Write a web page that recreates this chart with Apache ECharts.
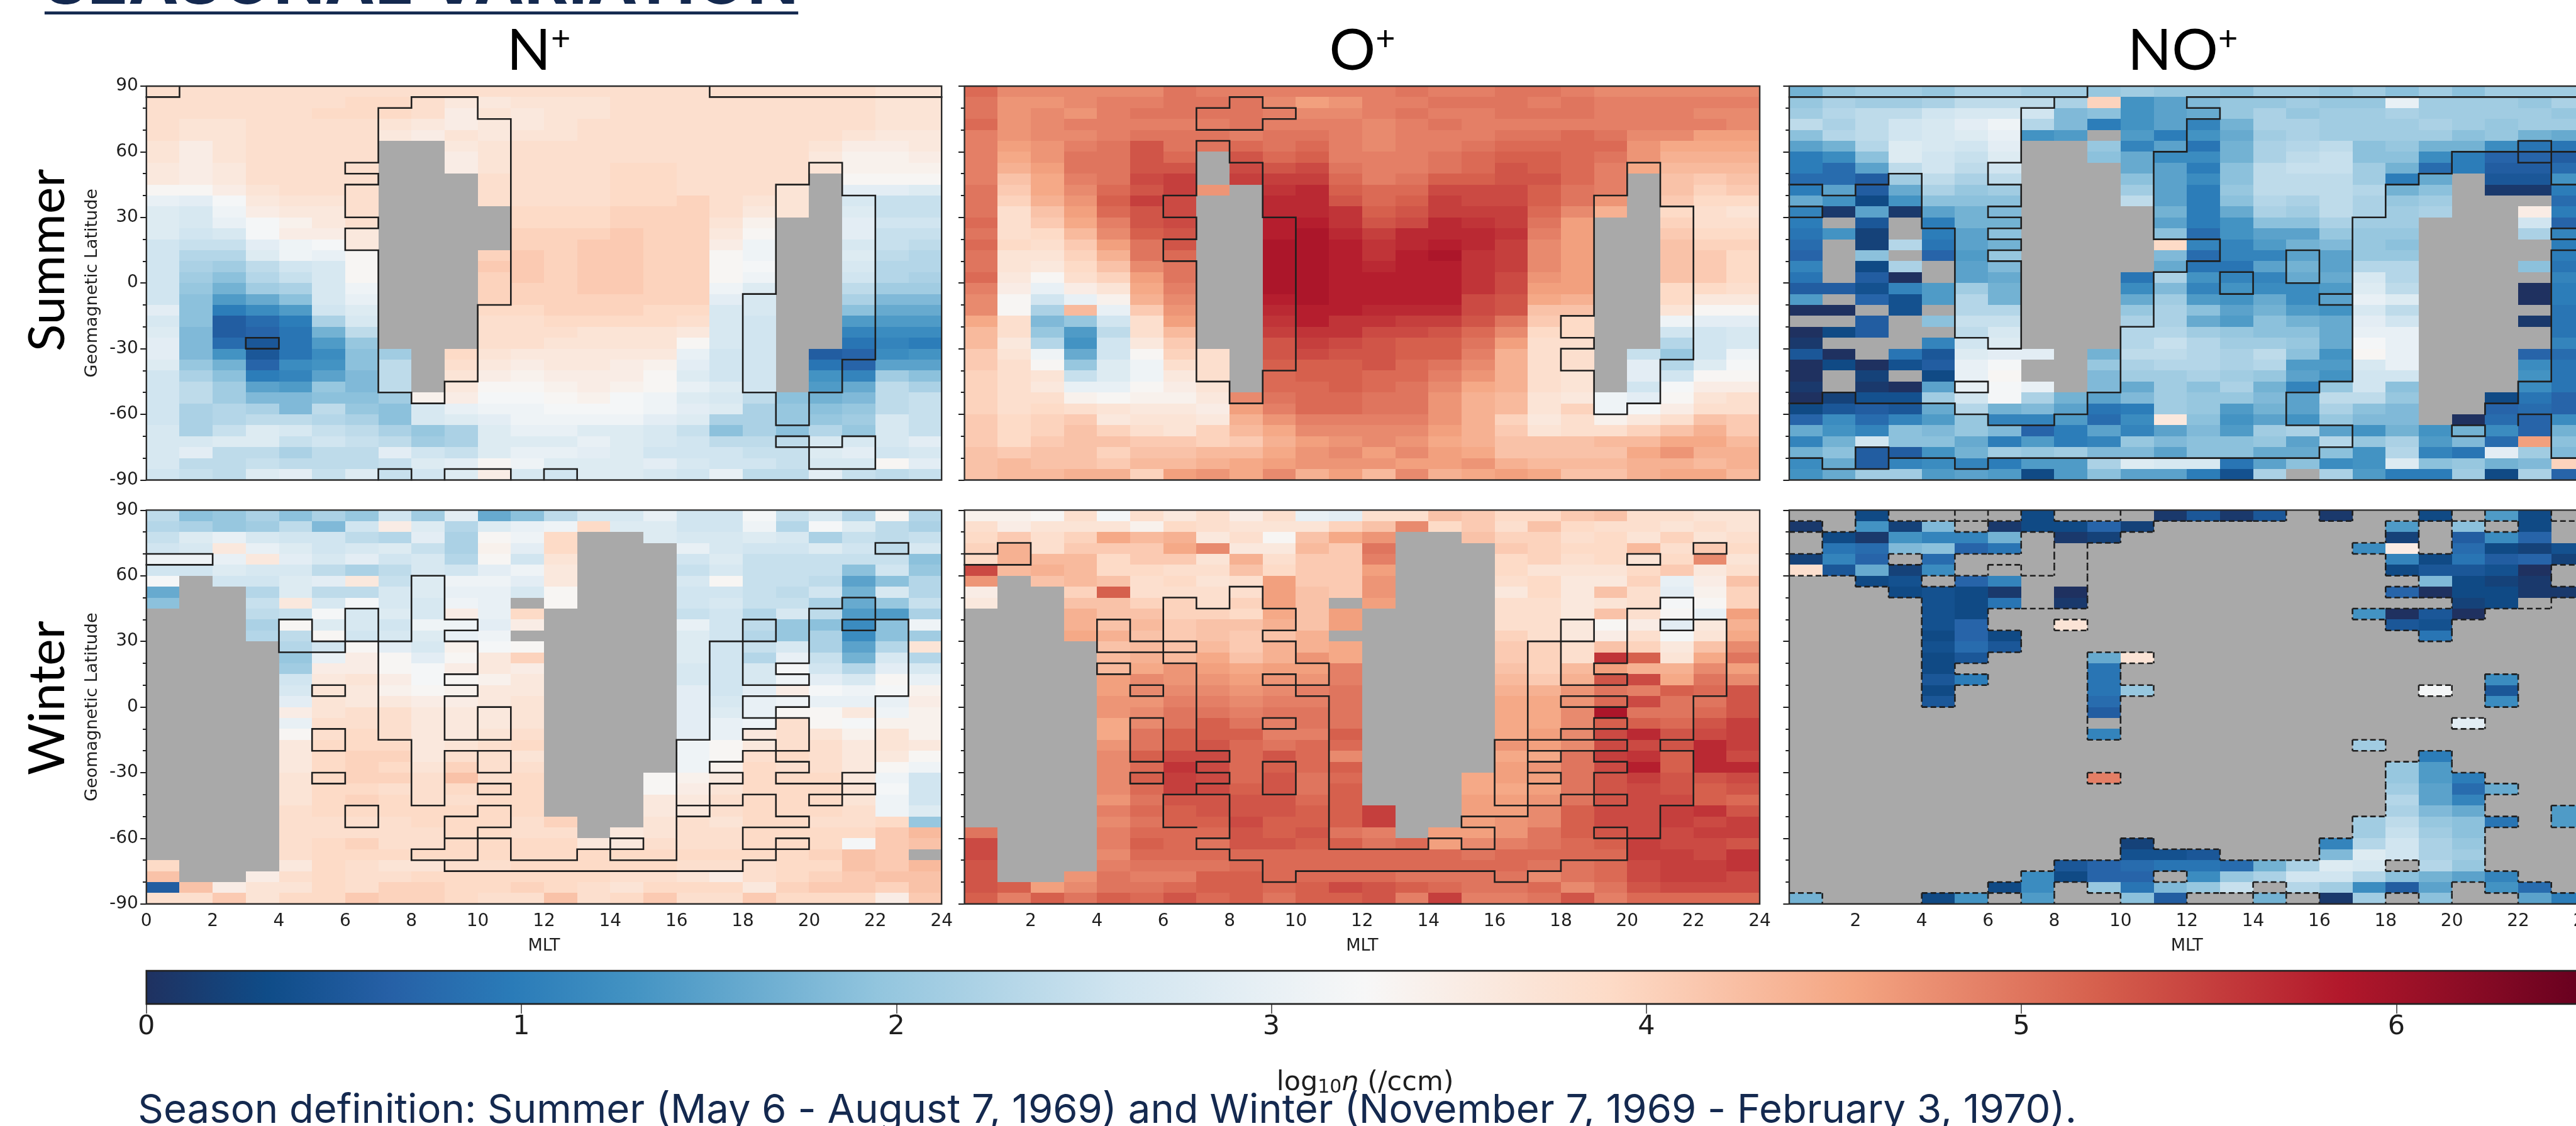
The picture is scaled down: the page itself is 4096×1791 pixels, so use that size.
<!DOCTYPE html>
<html><head><meta charset="utf-8">
<style>html,body{margin:0;padding:0;background:#fff;overflow:hidden}#c{width:4096px;height:1791px}</style>
<script src="https://cdn.jsdelivr.net/npm/echarts@6/dist/echarts.min.js"></script>
</head><body><div id="c"></div>
<script>
const X=null; // no data (grey)
const speciesTitles=['N','O','NO'];
const rowTitles=['Summer','Winter'];
const colourbarTicks=[0,1,2,3,4,5,6];
// log10 n in tenths, rows run from latitude 85..90 down to -90..-85, columns MLT 0..23
const nSummer=[
[38,38,38,38,38,38,38,38,38,38,38,38,38,38,38,38,38,38,38,38,38,38,37,37],
[38,38,38,38,38,38,39,39,38,36,36,37,37,37,38,38,38,38,38,38,38,38,37,37],
[38,38,38,38,38,39,39,39,38,35,37,36,37,37,38,38,38,38,38,38,38,38,37,37],
[38,37,37,38,38,38,38,37,36,35,36,36,37,38,38,38,38,38,38,38,38,38,37,37],
[38,37,37,38,38,38,38,36,35,37,36,37,37,38,38,38,38,38,38,38,38,37,36,36],
[37,35,37,38,38,38,38,X,X,36,37,38,38,38,38,38,38,38,38,38,37,35,35,36],
[37,35,37,38,38,38,38,X,X,35,37,38,38,38,38,38,38,38,38,38,36,34,34,35],
[36,35,36,38,38,38,38,X,X,35,37,38,38,38,39,39,38,38,38,38,37,34,34,34],
[36,35,36,38,38,38,38,X,X,X,38,38,38,38,39,39,38,38,38,38,X,33,33,33],
[33,33,35,37,38,38,38,X,X,X,38,38,38,38,39,39,38,38,38,37,X,29,29,28],
[30,29,32,36,37,37,38,X,X,X,38,38,38,38,39,39,40,38,37,37,X,27,25,25],
[28,27,31,35,36,36,38,X,X,X,X,39,39,39,40,40,40,38,36,37,X,28,25,25],
[28,27,30,32,34,36,38,X,X,X,X,39,39,39,40,40,40,37,34,X,X,29,26,26],
[28,26,27,32,35,35,36,X,X,X,X,40,40,40,41,40,40,36,33,X,X,29,25,25],
[26,25,25,29,31,32,36,X,X,X,X,40,40,41,41,40,40,35,31,X,X,27,25,24],
[26,23,23,28,31,30,33,X,X,X,40,41,40,41,41,40,40,33,31,X,X,28,24,23],
[26,22,21,24,26,27,33,X,X,X,41,41,40,41,41,40,40,33,32,X,X,27,23,23],
[26,21,19,23,25,27,33,X,X,X,40,41,40,41,41,40,40,33,31,X,X,26,23,22],
[26,20,17,21,22,27,31,X,X,X,40,40,40,41,41,40,40,31,28,X,X,24,21,21],
[26,19,14,16,19,27,30,X,X,X,40,40,40,40,40,40,40,29,27,X,X,22,18,18],
[29,19,10,12,14,26,28,X,X,X,39,39,40,40,40,39,39,27,27,X,X,19,16,16],
[27,19,6,8,10,22,27,X,X,X,38,38,39,39,39,39,38,27,26,X,X,14,14,14],
[28,18,6,7,9,17,24,X,X,X,38,38,38,37,37,37,36,27,26,X,X,11,12,12],
[29,18,8,5,9,14,20,X,X,X,38,38,37,37,37,37,33,27,26,X,X,9,11,10],
[29,18,13,5,9,12,19,21,X,39,37,36,36,36,36,36,30,26,26,X,6,7,12,13],
[28,20,17,7,12,13,19,24,X,38,36,35,36,36,35,34,29,26,26,X,9,7,15,15],
[26,22,19,10,11,15,18,24,X,37,35,34,35,35,35,33,28,26,26,X,13,11,21,19],
[26,24,21,15,14,20,18,24,X,36,33,33,34,35,34,33,30,28,26,X,14,16,24,22],
[26,24,21,18,18,19,19,21,34,35,32,32,33,34,32,31,28,27,24,19,17,18,24,25],
[26,22,23,22,18,24,20,19,27,30,31,31,32,32,32,31,29,28,22,20,19,20,24,25],
[26,22,23,24,24,23,22,19,27,28,29,31,31,31,31,29,28,22,22,20,20,21,27,25],
[27,22,25,28,27,25,24,22,20,22,28,30,30,28,28,27,25,19,22,19,23,20,27,25],
[27,27,28,28,25,26,25,24,21,22,28,28,28,30,28,27,26,24,24,24,27,27,27,29],
[27,29,24,24,22,24,24,29,26,25,28,30,30,29,28,26,26,26,25,25,28,29,26,27],
[27,24,24,25,24,24,24,25,28,29,33,31,28,28,28,29,27,26,26,25,27,27,33,29],
[26,25,24,28,29,25,28,25,26,28,35,27,26,28,28,27,26,30,24,24,29,25,24,25]];
const oSummer=[
[51,48,48,48,48,48,50,49,49,49,49,49,49,50,49,49,50,50,49,48,48,48,48,48],
[50,47,47,48,49,49,50,50,50,48,46,47,49,49,50,50,50,49,50,49,49,49,49,49],
[50,47,48,47,49,50,50,50,50,49,48,48,49,50,49,49,50,50,50,49,49,49,48,48],
[51,47,48,49,49,49,49,49,50,49,49,49,48,49,50,49,49,49,49,49,49,49,49,48],
[49,47,48,48,49,50,50,50,49,50,50,49,48,49,49,49,50,50,51,50,48,48,46,46],
[49,46,47,49,50,53,50,50,51,50,51,49,48,49,49,50,51,51,51,51,47,45,45,45],
[49,45,47,50,50,53,51,X,53,51,52,49,49,49,50,51,52,52,51,50,47,44,44,44],
[49,44,46,50,50,53,53,X,54,53,54,50,49,49,50,51,53,52,51,49,45,43,43,43],
[49,42,45,49,50,54,55,X,55,55,55,51,49,50,52,52,53,53,51,49,X,42,41,42],
[50,41,45,48,51,53,55,47,X,56,57,52,51,51,54,54,54,52,50,49,X,42,40,41],
[50,40,44,47,52,55,54,X,X,57,57,53,51,52,55,54,54,52,50,47,X,41,39,39],
[50,38,42,46,51,53,54,X,X,57,57,56,52,53,55,55,55,51,48,44,X,39,38,37],
[51,38,41,45,49,53,54,X,X,58,58,56,53,54,57,56,55,50,46,X,X,40,38,38],
[50,38,39,43,48,52,53,X,X,58,59,57,55,57,57,57,56,49,46,X,X,41,39,39],
[51,39,38,41,46,50,53,X,X,59,59,58,56,57,58,57,55,48,46,X,X,42,40,40],
[50,37,37,40,44,50,51,X,X,59,59,58,56,58,59,56,55,48,46,X,X,42,41,39],
[50,37,36,39,42,48,50,X,X,59,59,58,57,58,58,56,55,48,46,X,X,42,41,39],
[51,36,33,38,40,46,50,X,X,59,59,58,58,58,58,56,54,47,46,X,X,42,41,39],
[49,35,30,35,37,45,49,X,X,59,59,58,58,58,58,56,54,46,46,X,X,39,39,38],
[48,33,26,30,34,44,48,X,X,58,59,58,58,58,58,54,53,45,44,X,X,39,36,36],
[48,33,22,43,30,41,47,X,X,57,58,58,57,57,57,54,53,42,42,X,X,37,33,33],
[45,38,18,20,26,38,46,X,X,56,58,56,56,55,55,53,50,41,39,X,X,31,29,29],
[43,38,20,14,24,38,43,X,X,55,56,56,54,54,53,51,48,39,39,X,X,26,26,27],
[43,36,23,13,26,36,41,X,X,53,55,54,53,52,52,50,46,38,38,X,X,23,26,27],
[41,37,31,16,26,33,40,38,X,53,54,53,53,52,52,49,44,38,38,X,25,20,26,31],
[41,38,33,20,28,31,38,38,X,52,52,52,53,51,50,48,44,38,38,X,29,23,28,32],
[40,38,37,25,28,31,36,38,X,51,52,52,51,51,49,47,44,38,37,X,29,26,33,33],
[40,38,36,30,30,33,35,37,X,51,51,52,51,50,48,45,44,38,37,X,26,32,35,35],
[40,38,38,34,33,34,34,36,48,50,51,51,50,50,47,44,43,37,36,31,29,33,37,38],
[40,38,39,38,37,36,36,35,46,49,51,51,50,50,47,44,43,37,40,31,32,35,38,38],
[41,39,40,41,36,37,37,36,44,47,49,49,49,49,47,44,40,36,38,34,36,38,42,41],
[41,39,40,42,40,38,37,40,43,45,48,48,48,48,46,44,41,37,38,38,40,42,44,41],
[41,39,41,42,42,41,41,40,41,44,46,47,48,47,45,44,42,42,42,43,43,45,45,43],
[42,41,42,42,40,42,42,43,43,45,47,48,46,48,46,45,42,42,42,42,45,47,44,44],
[42,43,42,42,41,43,43,44,45,46,47,47,47,46,46,47,44,43,43,43,44,44,43,44],
[42,43,43,44,44,40,46,47,45,48,44,46,43,48,44,45,46,45,42,42,44,45,45,43]];
const noSummer=[
[17,20,21,21,20,22,22,21,21,20,21,20,20,19,21,21,20,21,19,21,19,21,21,21],
[20,22,21,21,22,24,24,24,22,40,13,15,18,20,20,21,20,20,30,21,21,21,20,22],
[21,23,24,24,26,27,27,26,18,19,13,15,16,20,22,20,21,21,22,21,21,21,21,20],
[24,22,24,26,27,29,31,23,18,10,13,15,11,17,22,22,21,21,21,22,21,20,21,21],
[19,23,24,26,27,28,30,13,14,X,14,10,13,16,21,22,21,21,21,21,19,20,17,16],
[15,17,23,28,27,26,29,X,X,20,11,15,9,17,22,23,24,19,20,17,17,12,9,9],
[10,12,19,28,26,25,28,X,X,19,16,12,12,17,22,24,25,19,19,12,10,7,7,6],
[10,8,15,24,26,24,26,X,X,X,16,15,10,19,24,25,25,21,17,8,10,6,6,8],
[8,8,6,21,24,22,24,X,X,X,19,15,12,19,24,24,24,21,10,16,X,5,5,13],
[10,15,6,16,22,20,21,X,X,X,21,15,10,20,24,24,24,23,17,19,X,1,1,10],
[16,13,3,13,19,19,19,X,X,X,24,15,10,19,23,22,24,22,20,21,X,X,X,8],
[11,1,15,1,15,17,18,X,X,X,X,17,10,16,22,21,24,22,21,22,X,X,35,10],
[10,X,5,X,10,17,17,X,X,X,X,15,10,13,19,19,22,21,21,X,X,X,26,7],
[9,13,2,X,10,15,19,X,X,X,X,19,8,13,15,15,20,20,20,X,X,X,22,11],
[8,X,2,23,9,15,17,X,X,X,X,39,11,11,14,17,18,20,19,X,X,X,X,10],
[7,X,19,X,7,14,20,X,X,X,X,18,8,11,11,15,15,20,20,X,X,X,X,10],
[11,X,3,22,X,15,18,X,X,X,X,16,9,9,15,17,15,23,23,X,X,X,19,9],
[9,X,6,0,X,15,16,X,X,X,9,22,13,11,11,16,16,27,23,X,X,X,X,11],
[6,6,4,11,14,21,17,X,X,X,12,18,11,13,12,12,14,28,24,X,X,X,0,10],
[14,X,7,4,14,23,17,X,X,X,16,21,14,13,16,12,15,30,28,X,X,X,0,10],
[0,0,X,4,X,23,23,X,X,X,20,22,19,15,17,14,13,27,24,X,X,X,X,9],
[X,X,6,X,19,25,25,X,X,X,22,22,16,14,19,17,16,29,26,X,X,X,1,9],
[0,3,6,X,X,24,27,X,X,X,23,23,21,20,19,19,16,30,30,X,X,X,X,9],
[1,X,X,X,11,26,28,X,X,X,23,25,23,21,21,20,16,32,30,X,X,X,X,11],
[5,0,X,9,5,28,29,29,X,17,24,24,23,22,24,19,13,33,30,X,X,X,7,8],
[0,3,0,4,6,30,32,X,X,20,22,23,23,22,23,14,14,27,30,X,X,X,12,9],
[0,X,2,X,3,30,33,X,X,18,21,21,22,21,20,15,13,26,26,X,X,X,13,9],
[1,X,1,0,15,30,32,30,X,18,16,21,19,22,17,11,20,26,19,X,X,X,12,9],
[0,2,4,4,21,26,32,22,17,15,18,21,20,20,18,15,24,24,20,X,X,3,9,7],
[3,5,6,5,16,23,17,18,15,9,10,21,20,14,17,15,22,19,18,X,X,7,8,7],
[7,12,8,11,14,20,11,11,14,8,12,36,19,13,15,13,20,18,18,X,0,8,7,12],
[16,13,11,19,18,20,18,7,10,15,11,15,18,14,21,22,15,13,17,13,17,12,7,17],
[11,17,26,19,19,16,10,14,10,11,20,18,19,19,20,15,23,20,22,14,18,8,46,19],
[17,19,6,6,13,17,21,20,21,18,18,15,19,19,16,16,19,13,23,11,9,29,21,18],
[12,16,6,11,12,11,10,14,14,22,28,27,27,9,15,19,12,13,28,19,20,17,18,40],
[13,16,21,21,14,15,14,3,14,19,15,15,10,4,22,X,22,14,10,10,21,3,22,7]];
const nWinter=[
[24,19,20,22,19,22,20,26,21,29,16,19,24,27,27,30,26,26,32,25,27,23,33,23],
[23,22,20,21,24,18,26,35,28,23,28,30,31,39,28,28,26,26,31,23,32,28,24,22],
[25,28,30,27,26,26,24,23,29,22,33,31,39,X,X,28,27,27,28,27,22,25,24,25],
[26,27,36,30,28,26,27,28,25,22,34,29,39,X,X,X,30,27,26,26,28,26,24,27],
[31,31,30,36,29,27,29,26,27,23,33,26,37,X,X,X,26,28,25,25,25,25,25,19],
[26,26,28,27,27,24,22,24,27,26,29,31,36,X,X,X,25,27,25,25,25,19,26,20],
[32,X,26,26,28,29,36,25,28,31,31,29,36,X,X,X,27,33,25,25,24,15,19,23],
[16,X,X,23,28,24,24,27,28,30,30,27,33,X,X,X,26,26,25,24,26,17,27,23],
[19,X,X,25,36,27,32,27,27,31,30,X,33,X,X,X,26,27,25,25,22,16,20,25],
[X,X,X,24,25,32,27,28,27,35,30,39,X,X,X,X,25,26,23,27,24,14,14,22],
[X,X,X,22,33,28,27,26,31,31,29,35,X,X,X,X,30,26,24,20,19,12,19,31],
[X,X,X,23,24,33,26,27,28,30,31,X,X,X,X,X,28,26,23,20,22,12,19,21],
[X,X,X,X,23,26,33,29,27,34,32,33,X,X,X,X,28,26,25,27,22,15,23,37],
[X,X,X,X,20,30,35,33,29,33,36,40,X,X,X,X,28,26,23,30,25,17,27,23],
[X,X,X,X,21,35,35,33,32,35,36,35,X,X,X,X,27,26,27,32,26,23,29,27],
[X,X,X,X,26,36,37,35,32,33,34,36,X,X,X,X,27,26,27,31,29,27,33,30],
[X,X,X,X,27,37,36,34,33,34,36,36,X,X,X,X,29,26,29,35,32,31,32,34],
[X,X,X,X,29,37,36,36,35,35,36,37,X,X,X,X,29,27,30,31,30,30,30,35],
[X,X,X,X,35,37,38,38,36,36,36,37,X,X,X,X,29,28,30,33,33,36,31,34],
[X,X,X,X,30,38,38,38,36,36,36,37,X,X,X,X,29,30,31,38,33,32,34,34],
[X,X,X,X,33,38,39,38,36,36,37,38,X,X,X,X,29,30,36,38,37,34,37,34],
[X,X,X,X,36,39,39,39,36,37,38,39,X,X,X,X,31,33,36,38,38,36,37,36],
[X,X,X,X,36,39,40,40,36,38,38,37,X,X,X,X,31,33,38,39,38,36,36,33],
[X,X,X,X,36,39,40,39,37,40,38,38,X,X,X,X,31,34,39,38,38,36,33,31],
[X,X,X,X,37,39,40,40,38,42,38,39,X,X,X,33,34,36,39,39,39,36,31,26],
[X,X,X,X,37,39,39,38,38,39,39,39,X,X,X,33,35,37,39,39,39,37,32,26],
[X,X,X,X,37,39,40,39,38,38,39,39,X,X,X,36,36,38,39,39,39,37,31,26],
[X,X,X,X,38,39,39,39,39,39,39,39,X,X,X,36,36,38,39,39,39,38,31,28],
[X,X,X,X,38,38,38,38,39,39,39,38,40,X,X,37,38,37,39,39,38,38,39,20],
[X,X,X,X,38,38,38,38,38,39,39,38,38,X,36,37,38,38,39,39,39,39,41,43],
[X,X,X,X,38,39,40,38,38,39,39,39,39,36,36,38,38,38,39,39,39,32,41,42],
[X,X,X,X,38,39,39,39,39,39,39,39,39,39,39,39,39,39,39,39,40,42,41,X],
[39,X,X,X,36,39,38,37,37,38,38,39,39,39,39,39,38,38,38,39,39,42,41,43],
[42,X,X,35,38,39,38,38,39,39,39,39,39,39,38,38,37,35,38,39,40,41,42,42],
[6,42,35,37,37,39,38,40,40,39,39,40,39,38,37,39,39,39,36,40,41,41,40,42],
[38,38,41,37,39,39,41,40,40,39,38,38,42,38,39,41,38,38,41,39,39,39,35,41]];
const oWinter=[
[34,34,33,38,32,38,36,38,35,38,30,29,38,38,42,41,39,39,41,42,38,38,37,37],
[38,35,37,37,37,34,39,38,37,37,37,40,42,48,39,41,38,42,39,38,38,37,38,37],
[39,41,38,40,45,43,44,36,38,33,42,45,47,X,X,42,40,40,38,39,37,40,37,38],
[40,44,38,41,41,41,45,48,36,36,43,41,50,X,X,X,41,40,39,39,43,38,41,39],
[39,44,43,43,39,41,41,37,44,38,41,41,49,X,X,X,39,40,38,39,37,39,48,37],
[54,43,44,43,39,39,38,38,42,39,41,41,46,X,X,X,39,37,37,37,39,41,36,38],
[47,X,42,43,42,38,39,37,38,46,41,41,47,X,X,X,38,39,36,36,40,30,35,42],
[35,X,X,40,52,38,38,38,38,46,42,41,47,X,X,X,36,39,36,42,38,29,34,40],
[36,X,X,42,42,40,40,38,40,46,42,X,46,X,X,X,38,38,36,37,38,32,33,40],
[X,X,X,44,42,42,40,40,39,45,42,46,X,X,X,X,38,38,36,42,38,33,30,46],
[X,X,X,44,42,43,41,42,42,44,42,46,X,X,X,X,38,38,36,33,35,29,36,44],
[X,X,X,45,44,42,41,42,41,42,44,X,X,X,X,X,40,38,36,35,38,32,37,45],
[X,X,X,X,42,43,42,43,41,44,44,45,X,X,X,X,41,40,38,42,40,36,42,48],
[X,X,X,X,43,44,43,45,42,44,47,45,X,X,X,X,41,40,38,56,52,37,45,50],
[X,X,X,X,43,45,47,46,45,46,46,49,X,X,X,X,42,40,43,46,44,44,48,46],
[X,X,X,X,46,48,47,47,46,47,47,49,X,X,X,X,43,41,44,53,54,45,50,48],
[X,X,X,X,46,48,48,48,47,48,49,50,X,X,X,X,44,44,47,50,49,52,51,53],
[X,X,X,X,47,47,49,49,48,49,49,50,X,X,X,X,45,45,47,51,54,50,50,53],
[X,X,X,X,47,48,50,50,49,50,50,50,X,X,X,X,45,45,48,59,50,50,51,53],
[X,X,X,X,45,48,50,52,50,49,50,50,X,X,X,X,45,45,48,52,52,51,53,55],
[X,X,X,X,45,50,52,52,52,49,49,52,X,X,X,X,45,46,48,54,57,53,54,55],
[X,X,X,X,47,50,52,53,51,50,51,51,X,X,X,X,47,46,48,54,54,53,57,55],
[X,X,X,X,48,52,54,54,51,53,51,48,X,X,X,X,45,45,50,55,56,52,57,54],
[X,X,X,X,48,51,56,54,51,52,51,52,X,X,X,X,46,47,50,54,58,52,57,57],
[X,X,X,X,48,52,55,54,51,53,50,51,X,X,X,45,46,46,50,53,55,53,53,54],
[X,X,X,X,48,51,55,54,52,53,50,52,X,X,X,45,45,46,50,53,54,53,52,53],
[X,X,X,X,47,50,53,53,53,53,51,52,X,X,X,46,46,47,50,53,54,54,52,51],
[X,X,X,X,49,51,52,53,53,53,52,52,55,X,X,46,46,48,52,54,54,55,56,53],
[X,X,X,X,48,50,52,52,54,52,52,52,55,X,X,46,47,48,52,54,54,55,54,55],
[50,X,X,X,49,51,51,51,53,52,53,50,49,X,46,46,47,50,52,53,54,54,55,55],
[54,X,X,X,49,52,51,50,53,53,52,52,50,51,46,48,49,50,51,52,55,54,54,53],
[54,X,X,X,48,51,51,51,51,51,51,51,51,51,51,50,51,51,51,51,55,55,54,56],
[53,X,X,X,49,50,50,50,51,51,51,51,51,51,51,51,51,50,50,51,54,55,55,56],
[53,X,X,47,50,49,49,52,52,51,51,51,51,50,50,50,50,48,50,51,54,55,55,54],
[53,52,46,48,50,50,51,52,52,51,52,54,53,52,51,50,50,51,48,50,53,54,54,54],
[52,49,52,50,52,51,53,51,52,50,52,52,53,49,55,49,49,50,53,49,51,51,51,51]];
// NO+ winter is mostly empty: each row lists column,value pairs
const noWinterSparse=[
[2,3,7,3,11,1,12,5,13,1,14,5,16,1,19,3,21,14,22,3],
[0,1,2,13,3,2,4,18,6,1,7,3,8,3,9,7,10,2,18,14,20,19,22,3],
[1,3,2,1,3,13,4,11,5,11,6,17,8,1,9,2,18,2,20,6,21,12,22,7],
[1,9,2,8,3,18,4,19,5,7,6,9,17,12,18,35,20,8,21,3,22,2,23,4],
[0,2,1,11,2,7,4,8,18,11,19,3,20,9,21,6,22,7,23,2],
[0,38,1,5,2,16,3,2,4,12,18,3,19,5,20,5,21,4,22,0],
[2,3,3,4,5,7,6,11,19,18,20,3,21,2,22,1],
[3,3,4,4,5,3,6,1,8,0,18,7,19,0,20,3,21,3,22,1,23,1],
[4,4,5,3,6,9,8,1,20,2,21,3],
[4,4,5,3,17,13,18,0,19,5,20,0],
[4,4,5,7,8,37,18,5,19,4],
[4,3,5,7,6,3,19,9],
[4,4,5,8,6,5],
[4,3,5,5,9,16,10,37],
[4,3,9,9],
[4,5,5,10,9,9,21,12],
[4,3,9,9,10,20,19,32,21,5],
[4,5,9,8,21,12],
[9,6],
[20,29],
[9,11],
[17,21],
[19,10],
[18,20,19,14],
[9,49,18,20,19,14,20,10],
[18,21,19,15,20,8,21,16],
[18,23,19,15,20,11],
[18,22,19,18,20,16,23,14],
[17,21,18,24,19,20,20,19,21,9,23,14],
[17,21,18,25,19,21,20,19],
[10,2,16,11,17,23,18,26,19,22,20,20],
[10,4,11,4,12,5,16,18,17,28,18,26,19,22,20,21],
[8,5,9,7,10,8,11,9,12,9,13,8,14,17,15,22,16,28,17,27,19,23,20,20],
[7,12,8,3,9,7,10,7,12,12,13,20,14,22,15,26,16,26,17,23,18,19,19,17,20,15,21,11],
[6,3,7,12,9,20,10,9,11,18,12,20,13,25,15,23,16,21,17,12,18,6,19,15,21,13,22,8],
[0,17,4,3,5,13,7,14,10,19,11,6,14,17,16,1,17,21,19,19,22,15,23,10]];
// grey cells [col,row] that still belong to the dashed significance mask of NO+ winter
const noWinterMaskExtras=[[5,0],[10,0],[23,1],[23,2],[8,3],[8,4],[8,5],[8,6],[6,5],[7,6],[7,7],[7,8],[22,8],[9,19]];
// outlines: [mlt,lat,mlt,lat,...]
const nSummerOutlines=[
[0,85,1,85,1,90],[17,90,17,85,24,85],
[7,80,8,80,8,85,10,85,10,75,11,75,11,-10,10,-10,10,-45,9,-45,9,-55,8,-55,8,-50,7,-50,7,15,6,15,6,25,7,25,7,30,6,30,6,45,7,45,7,50,6,50,6,55,7,55,7,80],
[19,45,20,45,20,55,21,55,21,40,22,40,22,-35,21,-35,21,-50,20,-50,20,-65,19,-65,19,-50,18,-50,18,-5,19,-5,19,45],
[19,-70,20,-70,20,-75,19,-75,19,-70],[20,-75,21,-75,21,-70,22,-70,22,-85,20,-85,20,-75],
[3,-25,4,-25,4,-30,3,-30,3,-25],
[7,-90,7,-85,8,-85,8,-90],[9,-90,9,-85,11,-85,11,-90],[12,-90,12,-85,13,-85,13,-90]];
const oSummerOutlines=[
[7,80,8,80,8,85,9,85,9,80,10,80,10,75,9,75,9,70,7,70,7,80],
[7,65,8,65,8,55,9,55,9,30,10,30,10,-40,9,-40,9,-55,8,-55,8,-45,7,-45,7,10,6,10,6,20,7,20,7,30,6,30,6,40,7,40,7,65],
[20,55,21,55,21,35,22,35,22,-35,21,-35,21,-55,20,-55,20,-60,19,-60,19,-40,18,-40,18,-30,19,-30,19,-25,18,-25,18,-15,19,-15,19,40,20,40,20,55]];
const noSummerOutlines=[
[0,85,9,85,9,90],
[12,85,24,85],
[12,85,12,80,13,80,13,75,12,75,12,60,11,60,11,20,13,20,13,10,12,10,12,5,11,5,11,-20,10,-20,10,-50,9,-50,9,-60,8,-60,8,-65,6,-65,6,-60,5,-60,5,-55,2,-55,2,-50,1,-50,1,-55,0,-55],
[8,85,8,80,7,80,7,55,6,55,6,45,7,45,7,35,6,35,6,30,7,30,7,25,6,25,6,20,7,20,7,15,6,15,6,10,7,10,7,-30,6,-30,6,-25,5,-25,5,25,4,25,4,50,3,50,3,45,2,45,2,40,1,40,1,45,0,45],
[0,35,1,35,1,30,0,30],
[13,5,14,5,14,-5,13,-5,13,5],[15,15,16,15,16,0,15,0,15,15],
[24,60,20,60,20,50,19,50,19,45,18,45,18,30,17,30,17,-45,16,-45,16,-50,15,-50,15,-65,17,-65,17,-75,16,-75,16,-80,6,-80,6,-85,5,-85,5,-80,3,-80,3,-85,1,-85,1,-80,0,-80],
[2,-85,2,-75,3,-75,3,-80],
[17,-5,16,-5,16,-10,17,-10],
[5,-45,6,-45,6,-50,5,-50,5,-45],
[20,-65,21,-65,21,-70,20,-70,20,-65],
[24,45,23,45,23,65,22,65,22,55,23,55],
[24,25,23,25,23,20,24,20],
[21,-60,21,-55,22,-55,22,-45,23,-45,23,15,24,15],
[22,-65,22,-60,23,-60,23,-80,24,-80]];
const nWinterOutlines=[
[0,70,2,70,2,65,0,65],[22,75,23,75,23,70,22,70,22,75],
[5,30,5,40,4,40,4,25,6,25,6,45,7,45,7,-15,8,-15,8,-45,9,-45,9,-20,11,-20,11,-30,10,-30,10,-20],
[5,30,8,30,8,60,9,60,9,40,10,40,10,35,9,35,9,30,10,30,10,15,9,15,9,10,10,10,10,5,9,5,9,-15,11,-15,11,0,10,0,10,-15],
[5,10,6,10,6,5,5,5,5,10],[5,-10,6,-10,6,-20,5,-20,5,-10],[5,-30,6,-30,6,-35,5,-35,5,-30],[6,-45,7,-45,7,-55,6,-55,6,-45],[10,-35,11,-35,11,-40,10,-40,10,-35],
[9,-65,9,-50,10,-50,10,-45,11,-45,11,-55,10,-55,10,-70,8,-70,8,-65,9,-65],
[9,-60,11,-60,11,-70,13,-70,13,-65,14,-65,14,-70,16,-70,16,-15,17,-15,17,30,19,30,19,40,18,40,18,10,20,10,20,15,19,15,19,20,20,20,20,45,21,45,21,50,22,50,22,35,21,35,21,40,23,40,23,5,22,5,22,-30,21,-30,21,-45,20,-45,20,-40,22,-40,22,-35,19,-35,19,-30,20,-30,20,-25,19,-25,19,-20],
[16,-45,18,-45,18,-40,19,-40,19,-50,20,-50,20,-55,18,-55,18,-65,19,-65,19,-70,18,-70,18,-75,9,-75,9,-70],
[16,-50,17,-50,17,-35,18,-35,18,-30,17,-30,17,-25,18,-25,18,-20,20,-20,20,-5,19,-5,19,0,20,0,20,5,18,5,18,-5,19,-5],
[19,0,19,-10,18,-10,18,-15,19,-15,19,-20],
[19,-60,20,-60,20,-65,19,-65,19,-60],[14,-60,15,-60,15,-65,14,-65,14,-60]];
const oWinterOutlines=[
[0,70,1,70,1,75,2,75,2,65,0,65],[22,75,23,75,23,70,22,70,22,75],[20,70,21,70,21,65,20,65,20,70],
[4,40,5,40,5,30,7,30,7,25,4,25,4,40],
[6,50,7,50,7,45,8,45,8,55,9,55,9,45,10,45,10,35,9,35,9,30,10,30,10,20,11,20,11,10,9,10,9,15,10,15,10,5,11,5,11,-65,14,-65,14,-60,15,-60,15,-65,16,-65,16,-55,15,-55,15,-50,17,-50,17,-15,16,-15,16,-45,17,-45],
[6,50,6,20,7,20,7,-20,8,-20,8,-25,7,-25,7,-30,8,-30,8,-35,7,-35,7,-40,8,-40,8,-60,7,-60,7,-65,8,-65,8,-70,9,-70,9,-80,10,-80,10,-75,16,-75,16,-80,17,-80,17,-75,18,-75,18,-70,20,-70,20,-60,19,-60,19,-55,20,-55,20,-60],
[4,20,5,20,5,15,4,15,4,20],[5,10,6,10,6,5,5,5,5,10],[5,-5,6,-5,6,-25,5,-25,5,-5],[5,-30,6,-30,6,-35,5,-35,5,-30],[7,-40,6,-40,6,-55,7,-55],[9,-5,10,-5,10,-10,9,-10,9,-5],[9,-25,10,-25,10,-40,9,-40,9,-25],
[17,-15,17,30,19,30,19,40,18,40,18,10,20,10,20,15,19,15,19,20,20,20,20,45,21,45,21,50,22,50,22,35,21,35,21,40,23,40,23,5,22,5,22,-15,21,-15,21,-20,22,-20,22,-45,21,-45,21,-60,20,-60],
[16,-15,20,-15,20,-20,17,-20,17,-15],
[18,-15,18,-10,20,-10,20,-5,19,-5,19,-15],
[19,-20,19,-25,20,-25,20,-30,19,-30,19,-40,20,-40,20,-45,19,-45,19,-40,18,-40,18,-45,17,-45,17,-35,18,-35,18,-30,17,-30,17,-25,18,-25,18,-20],
[18,5,20,5,20,0,18,0,18,5]];

const S=4096/4276;
const colormap=['#1f3160','#0f4c88','#2660a6','#2a7bb8','#4393c3','#6aacd0','#92c5de','#b2d5e7','#d1e5f0','#e4eef4','#f7f7f7','#fae9df','#fddbc7','#f9c0a5','#f4a582','#e58268','#d6604d','#c43c3c','#b2182b','#8c0c25','#67001f'];
const VMAX=6.5,GREY='#a9a9a9',NAVY='#14294f',INK='#1e1e1e';

const noWinter=noWinterSparse.map(p=>{const row=new Array(24).fill(X);for(let i=0;i<p.length;i+=2)row[p[i]]=p[i+1];return row;});
const panelRows=[nSummer,oSummer,noSummer,nWinter,oWinter,noWinter];
const panelOutlines=[nSummerOutlines,oSummerOutlines,noSummerOutlines,nWinterOutlines,oWinterOutlines,[]];
const gridPx=[[243,143],[1601,143],[2970,143],[243,847],[1601,847],[2970,847]];
const PW=1320,PH=654;

const grids=[],xAxes=[],yAxes=[],series=[];
function cellSeries(i){
  const data=[];
  panelRows[i].forEach((row,r)=>row.forEach((v,c)=>data.push([c,85-5*r,v===X?-1:v/10])));
  return {type:'custom',xAxisIndex:i,yAxisIndex:i,coordinateSystem:'cartesian2d',data,
    dimensions:['mlt','lat','log10n'],encode:{x:0,y:1},silent:true,animation:false,z:2,
    renderItem(p,api){
      const a=api.coord([api.value(0),api.value(1)]),b=api.coord([api.value(0)+1,api.value(1)+5]);
      const x0=Math.round(a[0]),x1=Math.round(b[0]),y0=Math.round(b[1]),y1=Math.round(a[1]);
      return {type:'rect',shape:{x:x0,y:y0,width:x1-x0,height:y1-y0},style:{fill:api.value(2)<0?GREY:api.visual('color')}};
    }};
}
function outlineSeries(i){
  const data=[];
  panelOutlines[i].forEach(pl=>{for(let k=0;k<pl.length;k+=2)data.push([pl[k],pl[k+1]]);data.push(['-','-']);});
  return {type:'line',xAxisIndex:i,yAxisIndex:i,data,symbol:'none',silent:true,animation:false,z:4,clip:true,
    lineStyle:{color:INK,width:2.6,join:'miter',cap:'square'}};
}
function maskEdges(){
  const rows=noWinter.map(r=>r.map(v=>v!==X));
  noWinterMaskExtras.forEach(([c,r])=>{rows[r][c]=true;});
  const e=[];
  for(let r=0;r<36;r++)for(let c=0;c<24;c++){
    const top=90-5*r;
    if(c<23&&rows[r][c]!==rows[r][c+1])e.push([c+1,top,c+1,top-5]);
    if(r<35&&rows[r][c]!==rows[r+1][c])e.push([c,top-5,c+1,top-5]);
  }
  return e;
}
function dashedSeries(i){
  return {type:'custom',xAxisIndex:i,yAxisIndex:i,coordinateSystem:'cartesian2d',data:maskEdges(),
    encode:{x:[0,2],y:[1,3]},silent:true,animation:false,z:4,
    renderItem(p,api){
      const a=api.coord([api.value(0),api.value(1)]),b=api.coord([api.value(2),api.value(3)]);
      return {type:'line',shape:{x1:a[0],y1:a[1],x2:b[0],y2:b[1]},style:{stroke:INK,lineWidth:2.6,lineDash:[9,5],fill:null}};
    }};
}
function spineSeries(i){
  return {type:'custom',xAxisIndex:i,yAxisIndex:i,coordinateSystem:'cartesian2d',data:[[0,-90]],
    encode:{x:0,y:1},silent:true,animation:false,z:5,clip:false,
    renderItem(p,api){
      const a=api.coord([0,90]),b=api.coord([24,-90]);
      return {type:'rect',shape:{x:a[0],y:a[1],width:b[0]-a[0],height:b[1]-a[1]},style:{fill:null,stroke:'#2b2b2b',lineWidth:2.4}};
    }};
}
for(let i=0;i<6;i++){
  const col=i%3,bottom=i>=3,g=gridPx[i];
  grids.push({left:g[0]*S,top:g[1]*S,width:PW*S,height:PH*S,show:false,outerBoundsMode:'none'});
  xAxes.push({type:'value',gridIndex:i,min:0,max:24,interval:2,splitLine:{show:false},
    axisLine:{show:false},axisTick:{show:true,length:10*S,lineStyle:{color:INK,width:2}},
    axisLabel:{show:bottom,fontFamily:'DejaVu Sans',fontSize:28,color:INK,margin:14,
      formatter:v=>(v===0&&col>0)?'':String(v)},
    name:bottom?'MLT':'',nameLocation:'middle',nameGap:54,nameTextStyle:{fontFamily:'DejaVu Sans',fontSize:27,color:INK}});
  yAxes.push({type:'value',gridIndex:i,min:-90,max:90,interval:30,splitLine:{show:false},
    axisLine:{show:false},axisTick:{show:true,length:10*S,lineStyle:{color:INK,width:2}},
    minorTick:{show:true,splitNumber:3,length:6*S,lineStyle:{color:INK,width:2}},
    axisLabel:{show:col===0,fontFamily:'DejaVu Sans',fontSize:28,color:INK,margin:13},
    name:col===0?'Geomagnetic Latitude':'',nameLocation:'middle',nameGap:72,nameRotate:90,
    nameTextStyle:{fontFamily:'DejaVu Sans',fontSize:27,color:INK}});
  series.push(cellSeries(i));
  if(i===5)series.push(dashedSeries(i));else series.push(outlineSeries(i));
  series.push(spineSeries(i));
}
// colour bar
grids.push({left:243*S,top:1612*S,width:4046*S,height:55*S,show:false,outerBoundsMode:'none'});
xAxes.push({type:'value',gridIndex:6,min:0,max:VMAX,interval:1,splitLine:{show:false},
  axisLine:{show:false},axisTick:{show:true,length:16*S,lineStyle:{color:'#333',width:1.5}},
  axisLabel:{fontFamily:'DejaVu Sans',fontSize:43,color:INK,margin:16,formatter:v=>colourbarTicks.includes(v)?String(v):''},
  name:'{t|log}{s|10}{i|n}{t| (/ccm)}',nameLocation:'middle',nameGap:105,
  nameTextStyle:{rich:{t:{fontFamily:'DejaVu Sans',fontSize:43,color:INK},s:{fontFamily:'DejaVu Sans',fontSize:30,color:INK,verticalAlign:'bottom',padding:[12,0,0,0]},i:{fontFamily:'DejaVu Sans',fontStyle:'italic',fontSize:43,color:INK}}}});
yAxes.push({type:'value',gridIndex:6,min:0,max:1,show:false});
series.push({type:'custom',xAxisIndex:6,yAxisIndex:6,coordinateSystem:'cartesian2d',data:[[0,0]],encode:{x:0,y:1},silent:true,animation:false,z:3,clip:false,
  renderItem(p,api){
    const a=api.coord([0,1]),b=api.coord([VMAX,0]);
    const stops=colormap.map((c,k)=>({offset:k/(colormap.length-1),color:c}));
    return {type:'rect',shape:{x:a[0],y:a[1],width:b[0]-a[0],height:b[1]-a[1]},
      style:{fill:new echarts.graphic.LinearGradient(0,0,1,0,stops),stroke:'#222',lineWidth:2.6}};
  }});

const speciesCentres=[889,2256,3618];
const titles=speciesTitles.map((t,i)=>({text:'{n|'+t+'}{p|+}',left:speciesCentres[i]*S,top:32*S,textAlign:'center',
  textStyle:{fontWeight:'normal',rich:{n:{fontFamily:'Lato',fontWeight:'normal',fontSize:92,color:'#000',lineHeight:92},p:{fontFamily:'Lato',fontWeight:'normal',fontSize:54,color:'#000',lineHeight:92,verticalAlign:'top',padding:[0,0,30,0]}}}}));

const chart=echarts.init(document.getElementById('c'),null,{renderer:'canvas',width:4096,height:1791});
chart.setOption({
  backgroundColor:'#fff',animation:false,
  title:titles,grid:grids,xAxis:xAxes,yAxis:yAxes,series,
  visualMap:{type:'continuous',show:false,min:0,max:VMAX,dimension:2,seriesIndex:[0,3,6,9,12,15],
    inRange:{color:colormap},outOfRange:{color:GREY}},
  graphic:{elements:[
    {type:'text',x:72*S,y:27,silent:true,style:{text:'SEASONAL VARIATION',fontFamily:'Inter',fontWeight:700,fontSize:107,fill:NAVY,textAlign:'left',textVerticalAlign:'bottom'}},
    {type:'rect',silent:true,shape:{x:74*S,y:19*S,width:1251*S,height:5*S},style:{fill:NAVY}},
    {type:'text',x:229*S,y:1845*S,silent:true,style:{text:'Season definition: Summer (May 6 - August 7, 1969) and Winter (November 7, 1969 - February 3, 1970).',fontFamily:'Inter',fontSize:63.4,fill:NAVY,textAlign:'left',textVerticalAlign:'middle'}},
    {type:'text',x:80*S,y:432*S,rotation:Math.PI/2,silent:true,style:{text:rowTitles[0],fontFamily:'Lato',fontSize:80,fill:'#000',textAlign:'center',textVerticalAlign:'middle'}},
    {type:'text',x:80*S,y:1159*S,rotation:Math.PI/2,silent:true,style:{text:rowTitles[1],fontFamily:'Lato',fontSize:80,fill:'#000',textAlign:'center',textVerticalAlign:'middle'}}
  ]}
});
</script></body></html>
